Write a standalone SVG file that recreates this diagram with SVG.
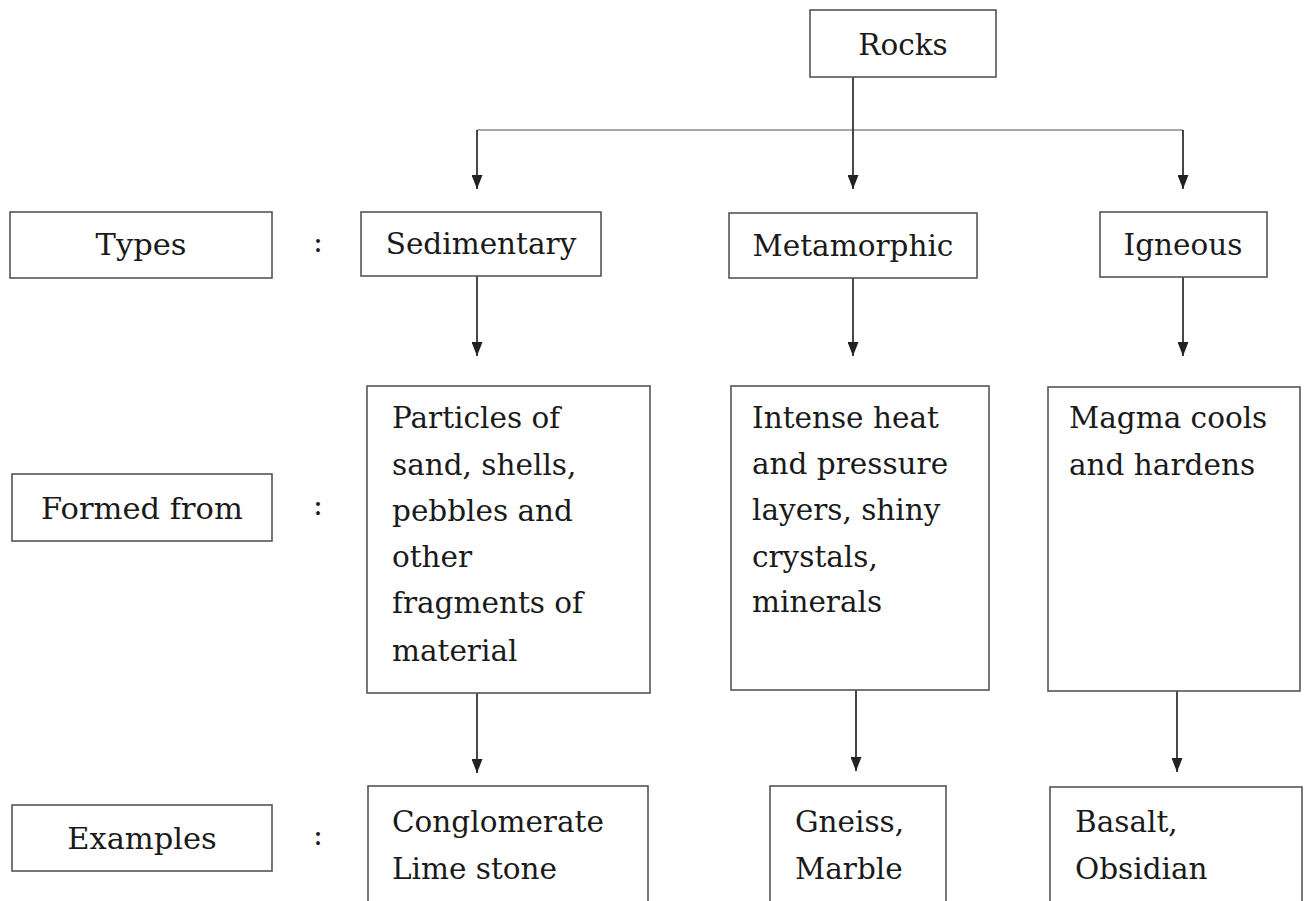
<svg xmlns="http://www.w3.org/2000/svg" width="1304" height="901" viewBox="0 0 1304 901">
<defs>
<marker id="ah" viewBox="0 0 14 11" refX="14" refY="5.5" markerWidth="14" markerHeight="11" markerUnits="userSpaceOnUse" orient="auto">
<path d="M0,0 L14,5.5 L0,11 Z" fill="#222"/>
</marker>
<style>
.box{fill:#fff;stroke:#555;stroke-width:1.6}
.t{font-family:"DejaVu Serif","Liberation Serif",serif;font-size:29.5px;fill:#1a1a1a}
.lb{font-size:30.5px}
.c{text-anchor:middle}
.ln{stroke:#333;stroke-width:1.8;fill:none}
.hl{stroke:#888;stroke-width:1.5;fill:none}
</style>
</defs>
<rect width="1304" height="901" fill="#fff"/>
<g id="connectors">
<line class="hl" x1="477" y1="130" x2="1183" y2="130"/>
<line class="ln" x1="853" y1="77" x2="853" y2="189" marker-end="url(#ah)"/>
<line class="ln" x1="477" y1="130" x2="477" y2="189" marker-end="url(#ah)"/>
<line class="ln" x1="1183" y1="130" x2="1183" y2="189" marker-end="url(#ah)"/>
<line class="ln" x1="477" y1="276" x2="477" y2="356" marker-end="url(#ah)"/>
<line class="ln" x1="853" y1="278" x2="853" y2="356" marker-end="url(#ah)"/>
<line class="ln" x1="1183" y1="277" x2="1183" y2="356" marker-end="url(#ah)"/>
<line class="ln" x1="477" y1="693" x2="477" y2="773" marker-end="url(#ah)"/>
<line class="ln" x1="856" y1="690" x2="856" y2="771" marker-end="url(#ah)"/>
<line class="ln" x1="1177" y1="691" x2="1177" y2="772" marker-end="url(#ah)"/>
</g>
<g id="rocks"><rect class="box" x="810" y="10" width="186" height="67"/><text class="t c" x="903" y="55" fill="#444">Rocks</text></g>
<g id="types"><rect class="box" x="10" y="212" width="262" height="66"/><text class="t lb c" x="141" y="255">Types</text></g>
<text class="t c" x="318" y="252">:</text>
<g id="sedimentary"><rect class="box" x="361" y="212" width="240" height="64"/><text class="t c" x="481" y="254">Sedimentary</text></g>
<g id="metamorphic"><rect class="box" x="729" y="213" width="248" height="65"/><text class="t c" x="853" y="256">Metamorphic</text></g>
<g id="igneous"><rect class="box" x="1100" y="212" width="167" height="65"/><text class="t c" x="1183" y="255">Igneous</text></g>
<g id="formed-from"><rect class="box" x="12" y="474" width="260" height="67"/><text class="t lb c" x="142" y="519">Formed from</text></g>
<text class="t c" x="318" y="515">:</text>
<g id="sed-formed"><rect class="box" x="367" y="386" width="283" height="307"/>
<text class="t" x="392"><tspan x="392" y="428">Particles of</tspan><tspan x="392" y="475">sand, shells,</tspan><tspan x="392" y="521">pebbles and</tspan><tspan x="392" y="567">other</tspan><tspan x="392" y="613">fragments of</tspan><tspan x="392" y="661">material</tspan></text></g>
<g id="met-formed"><rect class="box" x="731" y="386" width="258" height="304"/>
<text class="t" x="752"><tspan x="752" y="428">Intense heat</tspan><tspan x="752" y="474">and pressure</tspan><tspan x="752" y="520">layers, shiny</tspan><tspan x="752" y="567">crystals,</tspan><tspan x="752" y="612">minerals</tspan></text></g>
<g id="ign-formed"><rect class="box" x="1048" y="387" width="252" height="304"/>
<text class="t" x="1069"><tspan x="1069" y="428">Magma cools</tspan><tspan x="1069" y="475">and hardens</tspan></text></g>
<g id="examples"><rect class="box" x="12" y="805" width="260" height="66"/><text class="t lb c" x="142" y="849">Examples</text></g>
<text class="t c" x="318" y="845">:</text>
<g id="sed-ex"><rect class="box" x="368" y="786" width="280" height="130"/>
<text class="t" x="392"><tspan x="392" y="832">Conglomerate</tspan><tspan x="392" y="879">Lime stone</tspan></text></g>
<g id="met-ex"><rect class="box" x="770" y="786" width="176" height="130"/>
<text class="t" x="795"><tspan x="795" y="832">Gneiss,</tspan><tspan x="795" y="879">Marble</tspan></text></g>
<g id="ign-ex"><rect class="box" x="1050" y="787" width="252" height="130"/>
<text class="t" x="1075"><tspan x="1075" y="832">Basalt,</tspan><tspan x="1075" y="879">Obsidian</tspan></text></g>
</svg>
